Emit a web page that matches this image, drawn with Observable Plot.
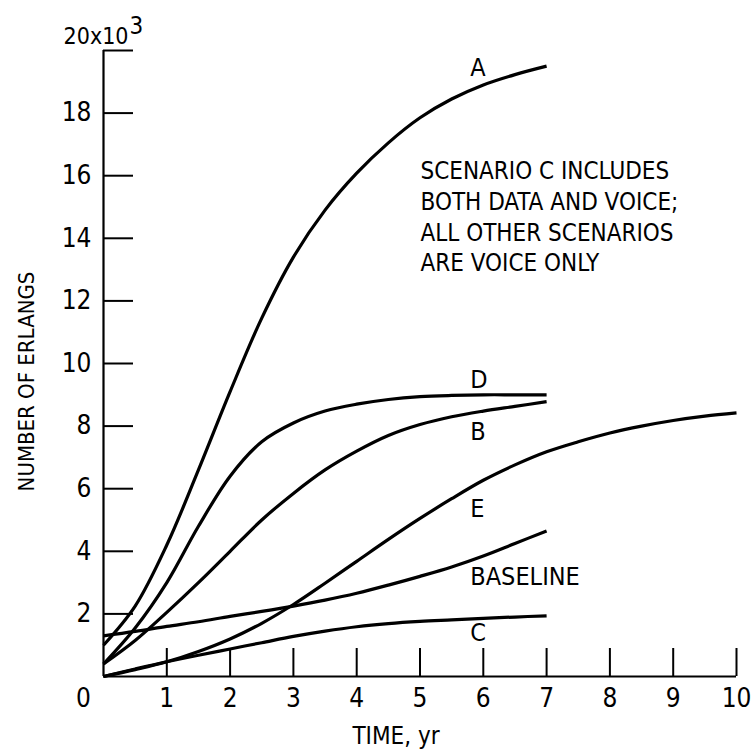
<!DOCTYPE html>
<html>
<head>
<meta charset="utf-8">
<script src="https://cdn.jsdelivr.net/npm/d3@7"></script>
<script src="https://cdn.jsdelivr.net/npm/@observablehq/plot@0.6"></script>
<style>
  html, body { margin: 0; padding: 0; background: #fff; }
</style>
</head>
<body>
<div id="chart"></div>
<script>
// ---- data ----
const yearsShort = [0, 0.5, 1, 1.5, 2, 2.5, 3, 3.5, 4, 4.5, 5, 5.5, 6, 6.5, 7];
const yearsLong = [0, 0.5, 1, 1.5, 2, 2.5, 3, 3.5, 4, 4.5, 5, 5.5, 6, 6.5, 7, 7.5, 8, 8.5, 9, 9.5, 10];

// thousands of erlangs
const valuesA = [1.0, 2.25, 4.2, 6.6, 9.1, 11.45, 13.4, 14.9, 16.08, 17.05, 17.85, 18.45, 18.9, 19.23, 19.5];
const valuesD = [0.4, 1.55, 3.0, 4.8, 6.4, 7.5, 8.1, 8.48, 8.7, 8.85, 8.94, 8.98, 9.0, 9.0, 9.0];
const valuesB = [0.4, 1.15, 2.05, 3.0, 4.0, 5.0, 5.85, 6.6, 7.2, 7.7, 8.05, 8.3, 8.48, 8.63, 8.78];
const valuesE = [0, 0.22, 0.47, 0.8, 1.2, 1.7, 2.3, 2.98, 3.68, 4.38, 5.05, 5.68, 6.27, 6.76, 7.18, 7.5, 7.78, 8.0, 8.18, 8.32, 8.42];
const valuesBaseline = [1.3, 1.44, 1.6, 1.75, 1.92, 2.08, 2.25, 2.44, 2.66, 2.92, 3.2, 3.5, 3.85, 4.25, 4.65];
const valuesC = [0, 0.24, 0.47, 0.68, 0.88, 1.08, 1.28, 1.45, 1.59, 1.69, 1.76, 1.81, 1.86, 1.9, 1.94];

const seriesNames = ["A", "D", "B", "E", "BASELINE", "C"];
const seriesYears = [yearsShort, yearsShort, yearsShort, yearsLong, yearsShort, yearsShort];
const seriesValues = [valuesA, valuesD, valuesB, valuesE, valuesBaseline, valuesC];

const xTickValues = [1, 2, 3, 4, 5, 6, 7, 8, 9, 10];
const xOriginLabel = [0];
const yTickValues = [2, 4, 6, 8, 10, 12, 14, 16, 18, 20];
const yTickLabels = [2, 4, 6, 8, 10, 12, 14, 16, 18];
const yTopLabel = ["20x10", "3"];
const yTitle = "NUMBER OF ERLANGS";
const xTitle = "TIME, yr";
const noteLines = ["SCENARIO C INCLUDES", "BOTH DATA AND VOICE;", "ALL OTHER SCENARIOS", "ARE VOICE ONLY"];
const labelYear = 6;

// ---- build table ----
const rows = seriesNames.flatMap((name, i) =>
  seriesYears[i].map((t, j) => ({name, t, v: seriesValues[i][j]}))
);
const labelPoint = name => rows.filter(d => d.name === name && d.t === labelYear);

const FONT = '"Liberation Sans Narrow", "DejaVu Sans Condensed", "Roboto Condensed", "Liberation Sans", sans-serif';
const FS = 26;

// label offsets (px) relative to the curve point at labelYear
const aboveLabels = {A: -9, D: -7};
const belowLabels = {B: 11, E: 19, BASELINE: 11, C: 5};

const marks = [
  // axis lines
  Plot.ruleX([0], {y1: 0, y2: 20, strokeWidth: 2.2, stroke: "#000"}),
  Plot.ruleY([0], {x1: 0, x2: 10, strokeWidth: 2.2, stroke: "#000"}),
  // inward ticks
  Plot.axisY({ticks: yTickValues, tickSize: -30, tickFormat: () => "", strokeWidth: 2, stroke: "#000", label: null}),
  Plot.axisX({ticks: xTickValues, tickSize: -28, tickFormat: () => "", strokeWidth: 2, stroke: "#000", label: null}),
  // tick labels
  Plot.axisY({ticks: yTickLabels, tickSize: 0, tickPadding: 12, fontSize: FS, fill: "#000", label: null}),
  Plot.axisX({ticks: xTickValues, tickSize: 0, tickPadding: 12, fontSize: FS, fill: "#000", label: null}),
  Plot.text(xOriginLabel, {x: d => d, y: 0, text: d => String(d), dx: -20, dy: 12, lineAnchor: "top", fontSize: FS, fill: "#000"}),
  Plot.text([yTopLabel[0]], {x: 0, y: 20, text: d => d, textAnchor: "end", dx: 25, dy: -7, lineAnchor: "bottom", fontSize: 23, fill: "#000"}),
  Plot.text([yTopLabel[1]], {x: 0, y: 20, text: d => d, textAnchor: "start", dx: 26, dy: -17, lineAnchor: "bottom", fontSize: 24, fill: "#000"}),
  // axis titles
  Plot.text([yTitle], {frameAnchor: "left", textAnchor: "middle", lineAnchor: "middle", rotate: -90, dx: -77, dy: 18, fontSize: 22, fill: "#000"}),
  Plot.text([xTitle], {frameAnchor: "bottom", textAnchor: "middle", lineAnchor: "bottom", dx: -24, dy: 67, fontSize: 24, fill: "#000"}),
  // note
  Plot.text([noteLines.join("\n")], {frameAnchor: "top-left", textAnchor: "start", lineAnchor: "top", dx: 317, dy: 107, lineHeight: 1.28, fontSize: 24, fill: "#000"}),
  // curves
  Plot.line(rows, {x: "t", y: "v", z: "name", curve: "catmull-rom", stroke: "#000", strokeWidth: 3.2, strokeLinecap: "butt"})
];

for (const [name, dy] of Object.entries(aboveLabels)) {
  marks.push(Plot.text(labelPoint(name), {x: "t", y: "v", text: "name", textAnchor: "start", dx: -13, dy, lineAnchor: "bottom", fontSize: 25, fill: "#000"}));
}
for (const [name, dy] of Object.entries(belowLabels)) {
  marks.push(Plot.text(labelPoint(name), {x: "t", y: "v", text: "name", textAnchor: "start", dx: -13, dy, lineAnchor: "top", fontSize: 25, fill: "#000"}));
}

const chart = Plot.plot({
  width: 751,
  height: 752,
  marginLeft: 103,
  marginRight: 15,
  marginTop: 50,
  marginBottom: 76,
  style: {fontFamily: FONT, fontSize: FS + "px", background: "#fff", color: "#000", overflow: "visible"},
  x: {domain: [0, 10]},
  y: {domain: [0, 20]},
  marks
});
document.getElementById("chart").appendChild(chart);
</script>
</body>
</html>
